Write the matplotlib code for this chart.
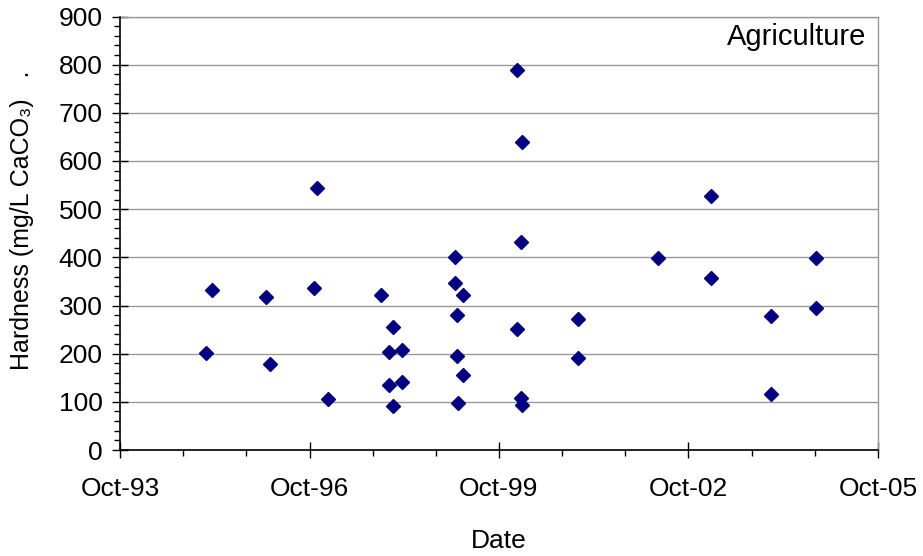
import numpy as np
import pandas as pd
import matplotlib
matplotlib.use('Agg')
import matplotlib.pyplot as plt
import matplotlib.dates as mdates

plt.rcParams['font.family'] = ['Liberation Sans', 'DejaVu Sans']

# sample dates and hardness values
dates = ['1995-02-12', '1995-03-16', '1996-01-26', '1996-02-13', '1996-10-28',
         '1996-11-16', '1997-01-13', '1997-11-21', '1998-01-25', '1998-01-06',
         '1998-03-21', '1998-01-06', '1998-03-21', '1998-01-25', '1999-01-19',
         '1999-01-19', '1999-03-06', '1999-01-29', '1999-01-29', '1999-03-06',
         '1999-02-08', '2000-01-15', '2000-02-13', '2000-02-04', '2000-01-15',
         '2000-02-04', '2000-02-13', '2001-01-03', '2001-01-03', '2002-04-08',
         '2003-02-09', '2003-02-09', '2004-01-24', '2004-01-24', '2004-10-09',
         '2004-10-09']
hardness = [201, 333, 317, 178, 337, 543, 105, 321, 255, 203,
            207, 135, 142, 91, 400, 347, 321, 281, 195, 155,
            98, 788, 639, 431, 251, 107, 93, 271, 192, 398,
            527, 357, 278, 116, 398, 295]
tick_dates = ['1993-10-01', '1996-10-01', '1999-10-01', '2002-10-01', '2005-10-01']

dates = pd.to_datetime(dates)
tick_dates = pd.to_datetime(tick_dates)

fig = plt.figure(figsize=(9.23, 5.56), dpi=100)
ax = fig.add_axes([120 / 923, 106 / 556, 758 / 923, 433.5 / 556])

ax.plot(dates, hardness, 'D', color='#000080', markersize=7.4, linestyle='none',
        zorder=3, clip_on=False)

ax.set_xlim(tick_dates[0], tick_dates[-1])
ax.set_ylim(0, 900)

ax.xaxis.set_major_locator(plt.FixedLocator(mdates.date2num(tick_dates)))
ax.xaxis.set_minor_locator(mdates.MonthLocator(bymonth=10))
ax.xaxis.set_major_formatter(mdates.DateFormatter('%b-%y'))
ax.set_yticks(np.arange(0, 901, 100))
ax.set_yticks(np.arange(0, 901, 20), minor=True)

ax.grid(True, axis='y', which='major', color='#999999', lw=1)
ax.set_axisbelow(True)

for s in ['left', 'bottom']:
    ax.spines[s].set_color('black')
    ax.spines[s].set_linewidth(1.2)
    ax.spines[s].set_zorder(4)
for s in ['top', 'right']:
    ax.spines[s].set_color('#999999')
    ax.spines[s].set_linewidth(1)

ax.tick_params(axis='both', which='major', direction='inout', length=11, width=1,
               labelsize=19)
ax.tick_params(axis='both', which='minor', direction='out', length=4.3, width=1)
ax.tick_params(axis='x', which='major', pad=14)
ax.tick_params(axis='y', which='major', pad=7)

ax.set_xlabel('Date', fontsize=19, labelpad=20)
ax.set_ylabel('Hardness (mg/L CaCO₃)   .', fontsize=18, labelpad=18)
ax.yaxis.label.set_y(0.53)

ax.text(0.985, 0.985, 'Agriculture', transform=ax.transAxes, ha='right', va='top',
        fontsize=21)

fig.savefig('out.png', dpi=100)
